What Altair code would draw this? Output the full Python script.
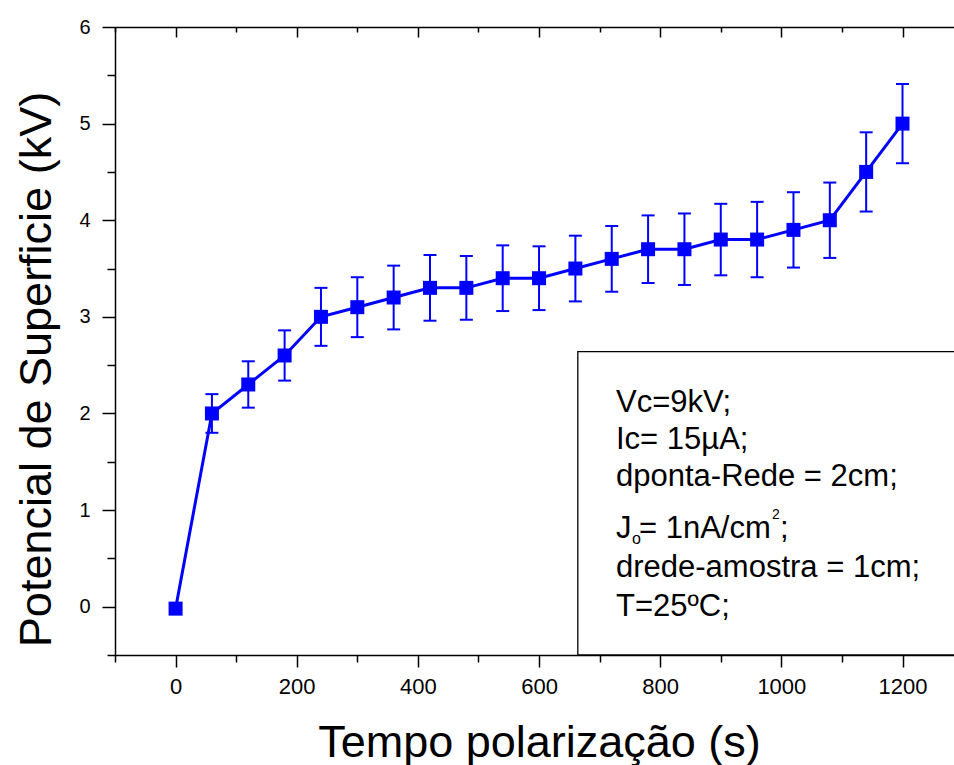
import altair as alt
import pandas as pd

# ---- data ----
time_s = [0, 60, 120, 180, 240, 300, 360, 420, 480, 540, 600,
          660, 720, 780, 840, 900, 960, 1020, 1080, 1140, 1200]
potential_kv = [-0.02, 2.0, 2.3, 2.6, 3.0, 3.1, 3.2, 3.3, 3.3, 3.4, 3.4,
                3.5, 3.6, 3.7, 3.7, 3.8, 3.8, 3.9, 4.0, 4.5, 5.0]
error_kv = [0.0, 0.2, 0.24, 0.26, 0.3, 0.31, 0.33, 0.34, 0.33, 0.34, 0.33,
            0.34, 0.34, 0.35, 0.37, 0.37, 0.39, 0.39, 0.39, 0.41, 0.41]

x_major = [0, 200, 400, 600, 800, 1000, 1200]
x_minor = [-100, 100, 300, 500, 700, 900, 1100]
y_major = [0, 1, 2, 3, 4, 5, 6]
y_minor = [-0.5, 0.5, 1.5, 2.5, 3.5, 4.5, 5.5]

x_domain = [-100, 1285]
y_domain = [-0.5, 6]

box_x = [664, 1310]
box_y = [2.64, -0.5]

legend_lines = ["Vc=9kV;", "Ic= 15\u00b5A;", "dponta-Rede = 2cm;",
                "drede-amostra = 1cm;", "T=25\u00baC;"]

x_title = "Tempo polarização (s)"
y_title = "Potencial de Superficie (kV)"

df = pd.DataFrame({"t": time_s, "v": potential_kv, "e": error_kv})
df["lo"] = df["v"] - df["e"]
df["hi"] = df["v"] + df["e"]

BLUE = "#0000FF"
FONT = "Liberation Sans"

xs = alt.Scale(domain=x_domain, nice=False, zero=False)
ys = alt.Scale(domain=y_domain, nice=False, zero=False)

common = dict(grid=False, domainColor="black", tickColor="black",
              labelColor="black", titleColor="black")

ax_bottom = alt.Axis(orient="bottom", values=x_major, tickSize=12, tickWidth=1.5,
                     domainWidth=1.5, labelFontSize=22, labelPadding=9,
                     labelFont=FONT, format="d", labelFlush=False,
                     title=x_title, titleFont=FONT, titleFontSize=45,
                     titleFontWeight="normal", titleX=424, titleY=101,
                     titleAlign="center", titleBaseline="alphabetic", **common)
ax_bottom_minor = alt.Axis(orient="bottom", values=x_minor, tickSize=7, tickWidth=1.5,
                           domain=False, labels=False, title=None, **common)
ax_top_border = alt.Axis(orient="top", domain=True, domainWidth=1.5, ticks=False,
                         labels=False, title=None, **common)
ax_top_major = alt.Axis(orient="top", values=x_major, offset=-10, tickSize=10,
                        tickWidth=1.5, domain=False, labels=False, title=None, **common)
ax_top_minor = alt.Axis(orient="top", values=x_minor, offset=-5, tickSize=5,
                        tickWidth=1.5, domain=False, labels=False, title=None, **common)

ax_left = alt.Axis(orient="left", values=y_major, tickSize=13, tickWidth=1.5,
                   domainWidth=1.5, labelFontSize=20, labelPadding=12,
                   labelFont=FONT, format="d",
                   title=y_title, titleFont=FONT, titleFontSize=45,
                   titleFontWeight="normal", titleAngle=270, titleX=-65, titleY=342,
                   titleAlign="center", titleBaseline="alphabetic", **common)
ax_left_minor = alt.Axis(orient="left", values=y_minor, tickSize=8, tickWidth=1.5,
                         domain=False, labels=False, title=None, **common)

base = alt.Chart(df)

rules = base.mark_rule(color=BLUE, strokeWidth=2).encode(
    x=alt.X("t:Q", scale=xs, axis=ax_bottom),
    y=alt.Y("lo:Q", scale=ys, axis=ax_left),
    y2="hi:Q",
)
caps_top = base.mark_tick(color=BLUE, orient="horizontal", size=13, thickness=2,
                          opacity=1).encode(
    x=alt.X("t:Q", scale=xs, axis=ax_bottom_minor),
    y=alt.Y("hi:Q", scale=ys, axis=ax_left_minor),
)
caps_bot = base.mark_tick(color=BLUE, orient="horizontal", size=13, thickness=2,
                          opacity=1).encode(
    x=alt.X("t:Q", scale=xs, axis=ax_top_border),
    y=alt.Y("lo:Q", scale=ys, axis=None),
)
line = base.mark_line(color=BLUE, strokeWidth=3).encode(
    x=alt.X("t:Q", scale=xs, axis=ax_top_major),
    y=alt.Y("v:Q", scale=ys, axis=None),
)
points = base.mark_square(color=BLUE, size=196, opacity=1).encode(
    x=alt.X("t:Q", scale=xs, axis=ax_top_minor),
    y=alt.Y("v:Q", scale=ys, axis=None),
)

box_df = pd.DataFrame({"x1": [box_x[0]], "x2": [box_x[1]],
                       "y1": [box_y[0]], "y2": [box_y[1]]})
box = alt.Chart(box_df).mark_rect(fill="white", stroke="black", strokeWidth=1.3).encode(
    x=alt.X("x1:Q", scale=xs, axis=None), x2="x2:Q",
    y=alt.Y("y1:Q", scale=ys, axis=None), y2="y2:Q",
)


def txt(s, x, y, size=31):
    return alt.Chart(pd.DataFrame({"s": [s]})).mark_text(
        align="left", baseline="alphabetic", font=FONT, fontSize=size, color="black"
    ).encode(text="s:N", x=alt.value(x), y=alt.value(y))


tx = 501
texts = [
    txt(legend_lines[0], tx, 385),
    txt(legend_lines[1], tx, 422),
    txt(legend_lines[2], tx, 459),
    txt("J", tx, 511),
    txt("o", tx + 16, 517, 16),
    txt("= 1nA/cm", tx + 23, 511),
    txt("2", tx + 156, 492, 14),
    txt(";", tx + 164, 511),
    txt(legend_lines[3], tx, 550),
    txt(legend_lines[4], tx, 589),
]

chart = alt.layer(rules, caps_top, caps_bot, line, points, box, *texts).resolve_axis(
    x="independent", y="independent"
).properties(
    width=839, height=628,
    padding={"left": 115, "top": 27, "right": 0, "bottom": 110},
    autosize=alt.AutoSizeParams(type="none"),
).configure_view(stroke=None).configure(font=FONT, background="white")

chart.save("out.html", embed_options={"renderer": "svg", "actions": False})
